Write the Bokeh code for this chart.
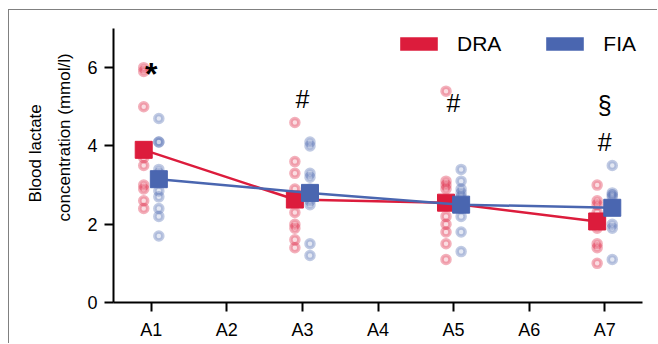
from bokeh.plotting import figure
from bokeh.models import (Range1d, FixedTicker, Legend, LegendItem, Title,
                          ColumnDataSource)
from bokeh.core.properties import value
from bokeh.embed import file_html
from bokeh.resources import INLINE

# Sampling points and their axis labels
categories = ["A1", "A2", "A3", "A4", "A5", "A6", "A7"]
measured_idx = [1, 3, 5, 7]

# Individual blood lactate values (mmol/l) per sampling point
dra_points = {
    1: [6.0, 5.9, 5.0, 3.9, 3.7, 3.5, 3.0, 2.9, 2.6, 2.4],
    3: [4.6, 3.6, 3.3, 2.9, 2.6, 2.3, 2.0, 1.9, 1.6, 1.4],
    5: [5.4, 3.1, 3.0, 2.9, 2.6, 2.5, 2.2, 2.0, 1.8, 1.5, 1.1],
    7: [3.0, 2.6, 2.5, 2.3, 2.1, 2.0, 1.9, 1.5, 1.4, 1.0],
}
fia_points = {
    1: [4.7, 4.1, 4.1, 3.4, 3.3, 2.85, 2.7, 2.4, 2.2, 1.7],
    3: [4.1, 4.0, 3.3, 3.2, 2.9, 2.8, 2.6, 2.5, 1.5, 1.2],
    5: [3.4, 3.1, 2.9, 2.8, 2.7, 2.5, 2.4, 2.2, 1.8, 1.3],
    7: [3.5, 2.8, 2.75, 2.7, 2.5, 2.4, 2.0, 1.9, 1.1],
}

# Group means
dra_mean = [3.9, 2.63, 2.55, 2.07]
fia_mean = [3.15, 2.8, 2.5, 2.42]

# Significance markers
star_x, star_y = [1], [5.97]
hash_x = [3, 5, 7, 7]
hash_y = [5.2, 5.1, 5.05, 4.1]
hash_text = ["#", "#", "§", "#"]

RED = "#dc1c3c"
BLUE = "#4a66b0"
FONT = "Liberation Sans"
OFFSET = 0.1

p = figure(width=649, height=334, output_backend="svg", toolbar_location=None,
           x_range=Range1d(0.5, 7.5), y_range=Range1d(0, 7),
           min_border_left=104, min_border_right=16, min_border_top=18,
           min_border_bottom=42)
# panel frame line on the left and top edge
p.styles = {"margin-left": "8px", "margin-top": "9px",
            "border-left": "1px solid #808080", "border-top": "1px solid #808080"}
p.outline_line_color = None
p.xgrid.visible = False
p.ygrid.visible = False
p.background_fill_color = "white"
p.border_fill_color = "white"


def flatten(points, shift):
    xs, ys = [], []
    for k in measured_idx:
        for v in points[k]:
            xs.append(k + shift)
            ys.append(v)
    return xs, ys


dx, dy = flatten(dra_points, -OFFSET)
fx, fy = flatten(fia_points, OFFSET)

for xs, ys, col in ((dx, dy, RED), (fx, fy, BLUE)):
    p.scatter(xs, ys, marker="circle", size=8, fill_color=col, fill_alpha=0.15,
              line_color=col, line_alpha=0.35, line_width=3.5)

mx_d = [k - OFFSET for k in measured_idx]
mx_f = [k + OFFSET for k in measured_idx]
p.line(mx_d, dra_mean, line_color=RED, line_width=2.5)
p.scatter(mx_d, dra_mean, marker="square", size=17, fill_color=RED, line_color=RED)
p.line(mx_f, fia_mean, line_color=BLUE, line_width=2.5)
p.scatter(mx_f, fia_mean, marker="square", size=17, fill_color=BLUE, line_color=BLUE)

p.text(star_x, star_y, text=["*"], text_align="center", text_baseline="middle",
       text_font=value(FONT), text_font_size="32px", text_font_style="bold",
       text_color="black", y_offset=5)
hs = ColumnDataSource(dict(x=hash_x, y=hash_y, t=hash_text))
p.text("x", "y", text="t", source=hs, text_align="center", text_baseline="middle",
       text_font=value(FONT), text_font_size="25px", text_color="black")

# Legend swatches (no visible data of their own)
nan = float("nan")
r_dra = p.quad(left=[nan], right=[nan], top=[nan], bottom=[nan],
               fill_color=RED, line_color=None)
r_fia = p.quad(left=[nan], right=[nan], top=[nan], bottom=[nan],
               fill_color=BLUE, line_color=None)
legend = Legend(items=[LegendItem(label="DRA", renderers=[r_dra]),
                       LegendItem(label="FIA", renderers=[r_fia])],
                orientation="horizontal", location=(282, 246),
                glyph_width=47, glyph_height=17, label_standoff=15, spacing=40,
                label_height=25, padding=0, margin=0, border_line_alpha=0,
                background_fill_alpha=0, label_text_font=FONT,
                label_text_font_size="21px", label_text_color="black")
p.add_layout(legend)

# Axes
for ax in (p.xaxis[0], p.yaxis[0]):
    ax.axis_line_width = 2
    ax.axis_line_color = "black"
    ax.major_tick_line_width = 2
    ax.major_tick_line_color = "black"
    ax.major_tick_in = 0
    ax.major_tick_out = 9
    ax.minor_tick_line_color = None
    ax.major_label_text_font = FONT
    ax.major_label_text_font_size = "18px"
    ax.major_label_text_color = "black"

p.xaxis.ticker = FixedTicker(ticks=list(range(1, 8)))
p.xaxis.major_label_overrides = {i + 1: c for i, c in enumerate(categories)}
p.xaxis.major_label_standoff = 8
p.yaxis.ticker = FixedTicker(ticks=[0, 2, 4, 6])
p.yaxis.major_label_standoff = 7

# Two-line y axis title: inner line first, outer line second
for txt, off, std in (("concentration (mmol/l)", 81, 21), ("Blood lactate", 100, -4)):
    p.add_layout(Title(text=txt, align="left", offset=off, standoff=std,
                       text_font=FONT, text_font_size="17px", text_font_style="normal",
                       text_color="black"), "left")

open("out.html", "w").write(file_html(p, INLINE))
